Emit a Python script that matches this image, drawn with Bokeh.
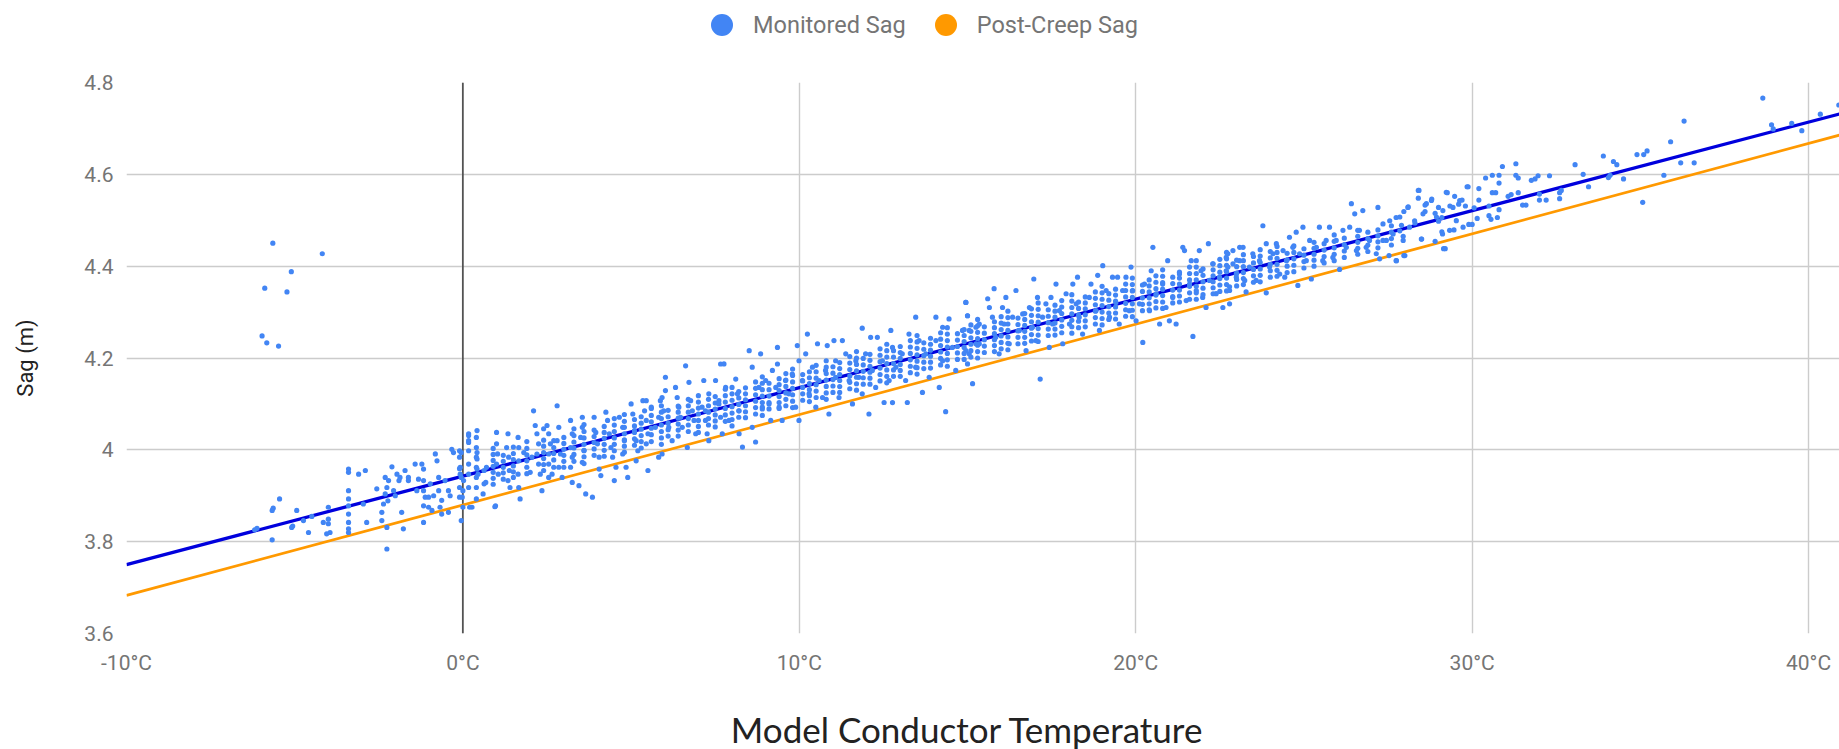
from bokeh.plotting import figure
from bokeh.layouts import column
from bokeh.models import ColumnDataSource, Legend, LegendItem, Span, FixedTicker, Label
from bokeh.embed import file_html
from bokeh.resources import INLINE

# ---------------- data ----------------
x_ticks = [-10, 0, 10, 20, 30, 40]
x_tick_labels = ["-10°C", "0°C", "10°C", "20°C", "30°C", "40°C"]
y_ticks = [3.6, 3.8, 4.0, 4.2, 4.4, 4.6, 4.8]
y_tick_labels = ["3.6", "3.8", "4", "4.2", "4.4", "4.6", "4.8"]

series_names = ["Monitored Sag", "Post-Creep Sag"]
x_title = "Model Conductor Temperature"
y_title = "Sag (m)"

# trend of monitored sag and the post-creep sag line (temperature, sag)
fit_temp = [-10, 41]
monitored_fit_sag = [3.750, 4.733]
post_creep_sag = [3.683, 4.687]

# monitored sag points (temperature degC, sag m)
outlier_points = [(-5.65, 4.450), (-4.18, 4.427), (-5.10, 4.388), (-5.89, 4.352),
                  (-5.23, 4.344), (-5.97, 4.248), (-5.83, 4.233), (-5.48, 4.226)]

cold_points = [
    (-6.19, 3.826), (-6.12, 3.829), (-5.67, 3.868), (-5.64, 3.873), (-5.45, 3.893), (-5.67, 3.804),
    (-5.09, 3.831), (-5.06, 3.834), (-4.94, 3.868), (-4.74, 3.846), (-4.59, 3.820), (-4.49, 3.855),
    (-4.15, 3.842), (-4.00, 3.839), (-4.00, 3.849), (-4.05, 3.817), (-3.95, 3.820), (-4.00, 3.875),
    (-3.40, 3.958), (-3.40, 3.951), (-3.40, 3.911), (-3.40, 3.893), (-3.40, 3.878), (-3.40, 3.860),
    (-3.40, 3.842), (-3.40, 3.828), (-3.40, 3.820), (-3.10, 3.947), (-2.96, 3.882), (-2.90, 3.955),
    (-2.86, 3.842), (-2.56, 3.915), (-2.41, 3.864), (-2.41, 3.846), (-2.26, 3.831), (-2.26, 3.784),
    (-2.31, 3.940), (-2.26, 3.918), (-2.31, 3.904), (-2.23, 3.889), (-2.36, 3.882), (-2.21, 3.933),
    (-2.11, 3.963), (-2.06, 3.911), (-2.01, 3.900), (-1.96, 3.947), (-1.87, 3.940), (-1.90, 3.933),
    (-1.82, 3.864), (-1.77, 3.828), (-1.72, 3.955), (-1.62, 3.940), (-1.62, 3.933), (-1.42, 3.969),
    (-1.32, 3.936), (-1.37, 3.911), (-1.22, 3.969), (-1.17, 3.958), (-1.17, 3.933), (-1.17, 3.911),
    (-1.17, 3.878), (-1.17, 3.842), (-1.12, 3.897), (-0.97, 3.926), (-1.02, 3.897), (-1.02, 3.875),
    (-0.92, 3.868), (-0.87, 3.900), (-0.82, 3.991), (-0.77, 3.976), (-0.72, 3.940), (-0.68, 3.875),
    (-0.63, 3.860), (-0.72, 3.911), (-0.53, 3.933), (-0.63, 3.890), (-0.43, 3.864), (-0.38, 3.900),
    (-0.33, 4.001), (-0.28, 3.994), (-0.43, 3.911), (-0.10, 3.959), (-0.05, 3.940), (0.00, 3.911),
    (-0.02, 3.897), (0.00, 3.875), (-0.05, 3.846), (0.02, 3.933), (-0.05, 3.994), (-0.10, 3.998),
    (-0.10, 3.984), (-0.08, 3.962), (-0.10, 3.918), (-0.10, 3.897), (-0.08, 3.947), (0.17, 4.031),
    (0.17, 4.016), (0.42, 4.042), (0.42, 3.994), (0.42, 3.980), (0.42, 3.958), (0.27, 3.875),
    (0.17, 4.035), (0.17, 4.020), (0.17, 3.998), (0.17, 3.969), (0.17, 3.918), (0.20, 3.875),
    (0.17, 3.947), (0.40, 4.027), (0.40, 4.005), (0.40, 3.984), (0.40, 3.962), (0.40, 3.940),
    (0.40, 3.918), (0.40, 3.893), (0.45, 3.947),
]

low_points = [
    (0.63, 3.955), (0.63, 3.926), (0.60, 3.904), (0.70, 3.962), (0.68, 3.929), (1.00, 4.038),
    (1.00, 4.013), (1.03, 3.991), (1.00, 3.969), (0.97, 3.878), (0.95, 3.876), (1.05, 3.947),
    (1.34, 4.035), (1.30, 4.005), (1.36, 3.984), (1.38, 3.955), (1.34, 3.933), (1.40, 3.918),
    (1.64, 4.027), (1.66, 4.005), (1.66, 3.976), (1.64, 3.947), (1.66, 3.918), (1.70, 3.893),
    (1.81, 3.994), (2.00, 3.951), (2.05, 3.984), (2.10, 4.085), (2.15, 4.053), (2.20, 4.035),
    (2.25, 4.013), (2.30, 3.947), (2.35, 3.911), (2.20, 3.991), (2.25, 3.969), (2.50, 4.053),
    (2.55, 4.035), (2.60, 4.013), (2.55, 3.991), (2.55, 3.969), (2.65, 3.947), (2.55, 3.940),
    (2.80, 4.096), (2.85, 4.049), (2.80, 4.020), (2.90, 3.991), (2.85, 3.962), (2.95, 3.940),
    (3.20, 4.064), (3.25, 4.035), (3.20, 4.005), (3.25, 3.984), (3.20, 3.962), (3.25, 3.929),
    (3.45, 3.922), (3.55, 4.071), (3.55, 4.049), (3.50, 4.027), (3.60, 3.998), (3.55, 3.973),
    (3.65, 3.904), (3.85, 3.897), (3.90, 4.071), (3.95, 4.038), (4.00, 4.013), (4.05, 3.984),
    (4.10, 3.944), (4.05, 3.958), (4.25, 4.082), (4.30, 4.064), (4.35, 4.035), (4.40, 4.005),
    (4.45, 3.984), (4.50, 3.933), (4.55, 3.962), (4.65, 4.071), (4.75, 4.049), (4.80, 4.020),
    (4.75, 3.991), (4.85, 3.962), (4.90, 3.940), (5.00, 4.100), (5.05, 4.078), (5.10, 4.042),
    (5.15, 4.020), (5.20, 3.998), (5.15, 3.976), (5.50, 3.955), (5.35, 4.107), (5.45, 4.107),
    (5.40, 4.085), (5.45, 4.064), (5.50, 4.035), (5.45, 4.013), (5.60, 4.093), (5.72, 4.049),
    (5.82, 4.071), (5.87, 4.107), (5.92, 4.114), (5.97, 4.085), (6.02, 4.129), (6.02, 4.158),
    (6.12, 4.049), (6.22, 4.020), (5.92, 3.991), (5.82, 3.984), (6.32, 4.136), (6.37, 4.114),
    (6.42, 4.093), (6.47, 4.071), (6.52, 4.049), (6.62, 4.183), (6.72, 4.147), (6.77, 4.107),
    (6.82, 4.085), (6.87, 4.064), (6.92, 4.035), (6.67, 4.005), (7.16, 4.151), (7.21, 4.085),
    (7.31, 4.020), (7.66, 4.187), (7.61, 4.107), (7.66, 4.071),
]

mid_points = [
    (7.11, 4.093), (7.21, 4.064), (7.26, 4.035), (7.31, 4.122), (7.51, 4.151), (7.61, 4.100),
    (7.71, 4.035), (7.76, 4.187), (7.81, 4.136), (7.91, 4.064), (8.11, 4.154), (8.16, 4.122),
    (8.21, 4.085), (8.21, 4.035), (8.31, 4.006), (8.51, 4.216), (8.60, 4.180), (8.70, 4.017),
    (8.60, 4.049), (8.80, 4.136), (8.85, 4.209), (8.90, 4.093), (9.00, 4.151), (9.10, 4.100),
    (9.15, 4.064), (9.20, 4.173), (9.30, 4.136), (9.35, 4.223), (9.35, 4.187), (9.40, 4.093),
    (9.49, 4.064), (9.59, 4.151), (9.69, 4.122), (9.79, 4.165), (9.89, 4.093), (9.94, 4.227),
    (9.99, 4.194), (9.99, 4.064), (10.09, 4.151), (10.19, 4.209), (10.24, 4.252), (10.29, 4.122),
    (10.39, 4.180), (10.49, 4.093), (10.54, 4.231), (10.59, 4.151), (10.69, 4.114), (10.78, 4.173),
    (10.83, 4.227), (10.88, 4.078), (11.03, 4.238), (11.08, 4.194), (11.08, 4.158), (11.18, 4.114),
    (11.28, 4.238), (11.38, 4.209), (11.48, 4.151), (11.58, 4.100), (11.68, 4.194), (11.77, 4.158),
    (11.87, 4.265), (11.87, 4.122), (11.97, 4.209), (12.07, 4.078), (12.12, 4.245), (12.17, 4.173),
    (12.27, 4.136), (12.32, 4.245), (12.47, 4.194), (12.52, 4.103), (12.67, 4.151), (12.72, 4.260),
    (12.77, 4.223), (12.77, 4.103), (12.87, 4.180), (13.06, 4.209), (13.16, 4.151), (13.21, 4.103),
    (13.26, 4.252), (13.46, 4.289), (13.46, 4.180), (13.56, 4.238), (13.66, 4.125), (13.76, 4.209),
    (13.86, 4.158), (14.06, 4.289), (14.06, 4.238), (14.16, 4.136), (14.26, 4.267), (14.26, 4.194),
    (14.35, 4.083), (14.45, 4.285), (14.55, 4.223), (14.65, 4.173), (14.85, 4.260), (14.95, 4.321),
    (15.00, 4.292), (15.05, 4.209), (15.15, 4.144), (15.25, 4.267), (15.35, 4.231),
]

warm_points = [
    (14.95, 4.321), (15.00, 4.292), (15.05, 4.260), (14.95, 4.216), (15.00, 4.187), (15.25, 4.231),
    (15.35, 4.274), (15.60, 4.329), (15.65, 4.310), (15.74, 4.289), (15.79, 4.351), (15.84, 4.245),
    (15.94, 4.209), (16.04, 4.310), (16.09, 4.274), (16.14, 4.332), (16.24, 4.231), (16.34, 4.289),
    (16.44, 4.347), (16.54, 4.260), (16.64, 4.296), (16.74, 4.216), (16.84, 4.310), (16.93, 4.267),
    (16.97, 4.372), (17.03, 4.238), (17.08, 4.332), (17.16, 4.154), (17.23, 4.289), (17.33, 4.318),
    (17.43, 4.223), (17.48, 4.332), (17.53, 4.274), (17.63, 4.361), (17.73, 4.303), (17.83, 4.231),
    (17.93, 4.340), (18.03, 4.274), (18.13, 4.361), (18.23, 4.318), (18.27, 4.376), (18.32, 4.289),
    (18.42, 4.252), (18.62, 4.332), (18.67, 4.361), (18.82, 4.303), (18.87, 4.380), (18.92, 4.260),
    (19.02, 4.401), (19.12, 4.347), (19.22, 4.289), (19.31, 4.376), (19.41, 4.321), (19.46, 4.376),
    (19.51, 4.274), (19.61, 4.347), (19.71, 4.376), (19.81, 4.303), (19.86, 4.398), (19.91, 4.347),
    (20.01, 4.281), (20.11, 4.318), (20.21, 4.234), (20.26, 4.361), (20.41, 4.303), (20.46, 4.390),
    (20.51, 4.441), (20.61, 4.340), (20.71, 4.274), (20.80, 4.361), (20.90, 4.310), (20.95, 4.412),
    (21.00, 4.281), (21.10, 4.332), (21.20, 4.274), (21.30, 4.383), (21.40, 4.441), (21.45, 4.434),
    (21.50, 4.325), (21.60, 4.361), (21.65, 4.412), (21.70, 4.247), (21.80, 4.347), (21.89, 4.434),
    (21.94, 4.390), (21.99, 4.332), (22.09, 4.310), (22.16, 4.449), (22.19, 4.369), (22.29, 4.405),
    (22.39, 4.340), (22.49, 4.376), (22.59, 4.310), (22.69, 4.390), (22.74, 4.427), (22.79, 4.347),
    (22.89, 4.405), (22.99, 4.376), (23.09, 4.441),
]

hot_points = [
    (22.69, 4.419), (22.74, 4.398), (22.79, 4.355), (22.79, 4.318), (22.89, 4.434), (22.99, 4.383),
    (23.09, 4.412), (23.19, 4.441), (23.24, 4.369), (23.28, 4.344), (23.38, 4.398), (23.48, 4.427),
    (23.58, 4.369), (23.68, 4.412), (23.78, 4.488), (23.88, 4.449), (23.88, 4.342), (23.98, 4.398),
    (24.08, 4.427), (24.18, 4.449), (24.28, 4.383), (24.38, 4.434), (24.43, 4.376), (24.48, 4.412),
    (24.57, 4.463), (24.67, 4.441), (24.77, 4.474), (24.82, 4.358), (24.87, 4.427), (24.97, 4.485),
    (25.07, 4.412), (25.17, 4.456), (25.22, 4.372), (25.37, 4.441), (25.46, 4.485), (25.56, 4.412),
    (25.66, 4.456), (25.76, 4.485), (25.86, 4.419), (25.96, 4.456), (26.06, 4.393), (26.16, 4.478),
    (26.26, 4.441), (26.36, 4.485), (26.41, 4.536), (26.51, 4.514), (26.56, 4.434), (26.65, 4.478),
    (26.75, 4.521), (26.85, 4.441), (26.95, 4.456), (27.15, 4.427), (27.20, 4.528), (27.25, 4.416),
    (27.35, 4.492), (27.45, 4.456), (27.55, 4.499), (27.65, 4.470), (27.75, 4.412), (27.85, 4.507),
    (27.95, 4.456), (28.00, 4.423), (28.09, 4.528), (28.14, 4.485), (28.29, 4.499), (28.42, 4.565),
    (28.49, 4.459), (28.54, 4.514), (28.64, 4.536), (28.79, 4.543), (28.94, 4.507), (29.13, 4.521),
    (29.15, 4.438), (29.23, 4.561), (29.33, 4.478), (29.43, 4.528), (29.53, 4.499), (29.63, 4.543),
    (29.73, 4.485), (29.88, 4.573),
]

summer_points = [
    (38.64, 4.766), (40.90, 4.751), (38.90, 4.708), (38.95, 4.699), (39.50, 4.711), (39.80, 4.695),
    (40.35, 4.731), (36.30, 4.716), (35.90, 4.671), (36.20, 4.625), (36.60, 4.625), (35.70, 4.598),
    (35.20, 4.651), (35.10, 4.643), (34.90, 4.643), (35.07, 4.539), (34.50, 4.590), (34.30, 4.621),
    (34.20, 4.628), (34.10, 4.598), (34.05, 4.593), (33.90, 4.640), (33.46, 4.573), (33.30, 4.600),
    (33.06, 4.621), (32.60, 4.560), (32.65, 4.565), (32.60, 4.547), (32.30, 4.597), (32.20, 4.544),
    (32.00, 4.544), (32.00, 4.557), (31.96, 4.597), (31.87, 4.590), (31.76, 4.587), (31.60, 4.533),
    (31.50, 4.533), (31.37, 4.560), (31.30, 4.598), (31.37, 4.592), (31.30, 4.623), (31.16, 4.556),
    (31.07, 4.552), (30.90, 4.617), (30.80, 4.598), (30.80, 4.581), (30.70, 4.560), (30.80, 4.523),
    (30.75, 4.506), (30.60, 4.598), (30.60, 4.560), (30.56, 4.502), (30.50, 4.510), (30.50, 4.531),
    (30.40, 4.592), (30.20, 4.569), (30.20, 4.544), (30.15, 4.504), (29.85, 4.573), (30.00, 4.491),
    (29.90, 4.491), (30.06, 4.527), (29.70, 4.544), (29.60, 4.535), (29.80, 4.531), (29.48, 4.552),
    (29.46, 4.479), (29.34, 4.531), (29.26, 4.560), (29.10, 4.475), (29.12, 4.470), (29.20, 4.438),
    (29.10, 4.506), (29.00, 4.528), (28.90, 4.515), (29.00, 4.498), (28.90, 4.454), (28.80, 4.546),
    (28.60, 4.533), (28.60, 4.519), (28.50, 4.459), (28.40, 4.565), (28.40, 4.548), (28.30, 4.494),
    (28.10, 4.529), (27.97, 4.519), (27.95, 4.465), (27.85, 4.477), (27.90, 4.489), (27.74, 4.506),
    (27.74, 4.412), (27.97, 4.423), (27.53, 4.423), (27.35, 4.456),
]

# vertical stripes of readings taken at the same model temperature
stripe_temp = [0.9, 1.5, 2.4, 3.0, 3.6, 4.2, 4.8, 5.3, 5.9, 6.4, 7.0, 7.5, 8.0, 8.4, 8.9, 9.4,
               9.8, 10.3, 10.8, 11.2, 11.7, 12.1, 12.6, 13.0, 13.5, 13.9, 14.4, 14.9, 15.3,
               15.8, 16.2, 16.7, 17.1, 17.6, 18.1, 18.5, 19.0, 19.4, 19.9, 20.4, 20.8, 21.3,
               21.8, 22.3, 22.7, 23.2, 23.7, 24.2, 24.7, 25.3, 25.9, 26.6, 27.2]
stripe_sag = [
    [3.925, 3.938, 3.951, 3.964, 3.977, 3.990, 4.003],
    [3.940, 3.952, 3.965, 3.979, 3.992, 4.006],
    [3.955, 3.968, 3.981, 3.994, 4.008, 4.021, 4.046],
    [3.962, 3.975, 3.988, 4.001, 4.014, 4.027],
    [3.970, 3.985, 3.999, 4.012, 4.026, 4.040, 4.055],
    [3.986, 3.999, 4.012, 4.025, 4.038, 4.051],
    [3.995, 4.008, 4.022, 4.035, 4.049, 4.062, 4.077],
    [4.004, 4.018, 4.031, 4.045, 4.058, 4.072],
    [4.012, 4.026, 4.040, 4.054, 4.068, 4.082, 4.096],
    [4.030, 4.043, 4.056, 4.069, 4.082, 4.095],
    [4.038, 4.051, 4.064, 4.078, 4.091, 4.104, 4.118],
    [4.050, 4.063, 4.076, 4.089, 4.102, 4.116],
    [4.052, 4.066, 4.080, 4.094, 4.108, 4.122, 4.136],
    [4.070, 4.083, 4.096, 4.109, 4.122, 4.135],
    [4.075, 4.089, 4.103, 4.117, 4.131, 4.145, 4.159],
    [4.090, 4.103, 4.116, 4.129, 4.142, 4.155],
    [4.092, 4.106, 4.120, 4.134, 4.148, 4.162, 4.176],
    [4.105, 4.118, 4.131, 4.144, 4.157, 4.170],
    [4.110, 4.124, 4.138, 4.152, 4.166, 4.180, 4.194],
    [4.125, 4.138, 4.151, 4.164, 4.177, 4.190],
    [4.130, 4.144, 4.158, 4.172, 4.186, 4.200, 4.214],
    [4.143, 4.156, 4.169, 4.182, 4.195, 4.208],
    [4.146, 4.160, 4.174, 4.188, 4.202, 4.216, 4.230],
    [4.160, 4.173, 4.186, 4.199, 4.212, 4.225],
    [4.165, 4.179, 4.193, 4.207, 4.221, 4.235, 4.249],
    [4.178, 4.191, 4.204, 4.217, 4.230, 4.243],
    [4.182, 4.196, 4.210, 4.224, 4.238, 4.252, 4.266],
    [4.197, 4.210, 4.223, 4.236, 4.249, 4.262],
    [4.200, 4.214, 4.228, 4.242, 4.256, 4.270, 4.284],
    [4.214, 4.227, 4.240, 4.253, 4.266, 4.279],
    [4.218, 4.232, 4.246, 4.260, 4.274, 4.288, 4.302],
    [4.232, 4.245, 4.258, 4.271, 4.284, 4.297],
    [4.236, 4.250, 4.264, 4.278, 4.292, 4.306, 4.320],
    [4.250, 4.263, 4.276, 4.289, 4.302, 4.315],
    [4.254, 4.268, 4.282, 4.296, 4.310, 4.324, 4.338],
    [4.268, 4.281, 4.294, 4.307, 4.320, 4.333],
    [4.272, 4.286, 4.300, 4.314, 4.328, 4.342, 4.356],
    [4.285, 4.298, 4.311, 4.324, 4.337, 4.350],
    [4.290, 4.304, 4.318, 4.332, 4.346, 4.360, 4.374],
    [4.305, 4.318, 4.331, 4.344, 4.357, 4.370],
    [4.308, 4.322, 4.336, 4.350, 4.364, 4.378, 4.392],
    [4.322, 4.335, 4.348, 4.361, 4.374, 4.387],
    [4.328, 4.342, 4.356, 4.370, 4.384, 4.398, 4.412],
    [4.340, 4.353, 4.366, 4.379, 4.392, 4.405],
    [4.346, 4.360, 4.374, 4.388, 4.402, 4.416, 4.430],
    [4.360, 4.373, 4.386, 4.399, 4.412, 4.425],
    [4.366, 4.380, 4.394, 4.408, 4.422, 4.436],
    [4.378, 4.391, 4.404, 4.417, 4.430, 4.443],
    [4.388, 4.402, 4.416, 4.430, 4.444],
    [4.400, 4.413, 4.426, 4.439, 4.452],
    [4.412, 4.426, 4.440, 4.454, 4.468],
    [4.426, 4.439, 4.452, 4.465, 4.478],
    [4.440, 4.453, 4.466, 4.479],
]

stripe_temp_b = [1.2, 1.9, 2.7, 3.3, 3.9, 4.5, 5.1, 5.6, 6.1, 6.7, 7.3, 7.8, 8.2, 8.7, 9.1, 9.6,
                 10.1, 10.5, 11.0, 11.5, 11.9, 12.4, 12.8, 13.3, 13.7, 14.2, 14.7, 15.1, 15.5,
                 16.0, 16.5, 16.9, 17.4, 17.8, 18.3, 18.8, 19.2, 19.7, 20.2, 20.6, 21.1, 21.6,
                 22.0, 22.5, 23.0, 23.5, 24.0, 24.5, 25.0, 25.6, 26.2, 26.9, 27.6]
stripe_sag_b = [
    [3.936, 3.950, 3.962, 3.975, 3.988],
    [3.948, 3.962, 3.976, 3.989, 4.003, 4.018],
    [3.962, 3.978, 3.992, 4.005, 4.020],
    [3.975, 3.990, 4.004, 4.017, 4.031, 4.046],
    [3.988, 4.002, 4.016, 4.029, 4.043],
    [3.998, 4.012, 4.026, 4.040, 4.054, 4.068],
    [4.010, 4.024, 4.038, 4.052, 4.066],
    [4.018, 4.033, 4.047, 4.061, 4.075, 4.090],
    [4.030, 4.044, 4.058, 4.072, 4.086],
    [4.040, 4.054, 4.068, 4.082, 4.096, 4.110],
    [4.054, 4.068, 4.082, 4.096, 4.110],
    [4.062, 4.076, 4.090, 4.104, 4.118, 4.132],
    [4.071, 4.085, 4.099, 4.113, 4.127],
    [4.078, 4.092, 4.106, 4.120, 4.134, 4.148],
    [4.089, 4.103, 4.117, 4.131, 4.145],
    [4.096, 4.110, 4.124, 4.138, 4.152, 4.166],
    [4.108, 4.122, 4.136, 4.150, 4.164],
    [4.114, 4.128, 4.142, 4.156, 4.170, 4.184],
    [4.125, 4.139, 4.153, 4.167, 4.181],
    [4.133, 4.147, 4.161, 4.175, 4.189, 4.203],
    [4.143, 4.157, 4.171, 4.185, 4.199],
    [4.150, 4.164, 4.178, 4.192, 4.206, 4.220],
    [4.160, 4.174, 4.188, 4.202, 4.216],
    [4.168, 4.182, 4.196, 4.210, 4.224, 4.238],
    [4.177, 4.191, 4.205, 4.219, 4.233],
    [4.185, 4.199, 4.213, 4.227, 4.241, 4.255],
    [4.197, 4.211, 4.225, 4.239, 4.253],
    [4.202, 4.216, 4.230, 4.244, 4.258, 4.272],
    [4.212, 4.226, 4.240, 4.254, 4.268],
    [4.220, 4.234, 4.248, 4.262, 4.276, 4.290],
    [4.231, 4.245, 4.259, 4.273, 4.287],
    [4.237, 4.251, 4.265, 4.279, 4.293, 4.307],
    [4.249, 4.263, 4.277, 4.291, 4.305],
    [4.255, 4.269, 4.283, 4.297, 4.311, 4.325],
    [4.266, 4.280, 4.294, 4.308, 4.322],
    [4.274, 4.288, 4.302, 4.316, 4.330, 4.344],
    [4.284, 4.298, 4.312, 4.326, 4.340],
    [4.291, 4.305, 4.319, 4.333, 4.347, 4.361],
    [4.303, 4.317, 4.331, 4.345, 4.359],
    [4.309, 4.323, 4.337, 4.351, 4.365, 4.379],
    [4.320, 4.334, 4.348, 4.362, 4.376],
    [4.328, 4.342, 4.356, 4.370, 4.384, 4.398],
    [4.338, 4.352, 4.366, 4.380, 4.394],
    [4.345, 4.359, 4.373, 4.387, 4.401, 4.415],
    [4.357, 4.371, 4.385, 4.399, 4.413],
    [4.365, 4.379, 4.393, 4.407, 4.421],
    [4.376, 4.390, 4.404, 4.418, 4.432],
    [4.386, 4.400, 4.414, 4.428],
    [4.396, 4.410, 4.424, 4.438],
    [4.407, 4.421, 4.435, 4.449],
    [4.419, 4.433, 4.447, 4.461],
    [4.432, 4.446, 4.460, 4.474],
    [4.446, 4.460, 4.474, 4.488],
]

# ---------------- assemble ----------------
monitored_temp, monitored_sag = [], []
for group in (outlier_points, cold_points, low_points, mid_points, warm_points, hot_points, summer_points):
    for t, s in group:
        monitored_temp.append(t)
        monitored_sag.append(s)
for temps, sag_lists in ((stripe_temp, stripe_sag), (stripe_temp_b, stripe_sag_b)):
    for t, sags in zip(temps, sag_lists):
        for s in sags:
            monitored_temp.append(t)
            monitored_sag.append(s)

points_src = ColumnDataSource(dict(x=monitored_temp, y=monitored_sag))
lines_src = ColumnDataSource(dict(x=fit_temp, fit=monitored_fit_sag, creep=post_creep_sag))

BLUE_PTS = "#4285f4"
ORANGE = "#ff9900"
GREY_TXT = "#757575"
W = 1839
TOTAL_H = 749
LEG_H = 56
TITLE_H = 59


def strip(height):
    f = figure(width=W, height=height, x_range=(0, 1), y_range=(0, 1),
               output_backend="svg", toolbar_location=None,
               x_axis_type=None, y_axis_type=None,
               min_border_left=0, min_border_right=0, min_border_top=0, min_border_bottom=0)
    f.outline_line_color = None
    f.xgrid.visible = False
    f.ygrid.visible = False
    return f


# ---------------- legend strip (frame aligned with chart frame, x from 126) ----------------
leg = strip(LEG_H)
legend_src = ColumnDataSource(dict(x=[float("nan")], y=[float("nan")]))
mon_marker = leg.scatter("x", "y", source=legend_src, marker="circle", size=5,
                         fill_color=BLUE_PTS, line_color=None)
creep_marker = leg.scatter("x", "y", source=legend_src, marker="circle", size=5,
                           fill_color=ORANGE, line_color=None)
legend = Legend(items=[LegendItem(label=series_names[0], renderers=[mon_marker]),
                       LegendItem(label=series_names[1], renderers=[creep_marker])],
                orientation="horizontal", location=(568, 4),
                glyph_width=55, glyph_height=55, label_standoff=4, spacing=12,
                padding=0, margin=0, border_line_color=None, background_fill_alpha=0,
                label_text_font="Roboto", label_text_font_size="23.5px",
                label_text_color=GREY_TXT)
leg.add_layout(legend, "center")

# ---------------- main chart ----------------
main_h = TOTAL_H - LEG_H - TITLE_H
p = figure(width=W, height=main_h, x_range=(-10, 40.92), y_range=(3.6, 4.8),
           output_backend="svg", toolbar_location=None,
           min_border_left=126, min_border_right=0, min_border_top=82 - LEG_H,
           min_border_bottom=main_h - (633 - LEG_H))
p.outline_line_color = None
p.background_fill_color = "white"
p.border_fill_color = "white"

p.xgrid.ticker = FixedTicker(ticks=x_ticks)
p.ygrid.ticker = FixedTicker(ticks=y_ticks)
for g in (p.xgrid, p.ygrid):
    g.grid_line_color = "#cccccc"
    g.grid_line_width = 1.4

zero_line = Span(location=0, dimension="height", line_color="#333333", line_width=1.4, level="underlay")
p.add_layout(zero_line)

blue_r = p.line("x", "fit", source=lines_src, line_color="#0000dd", line_width=3.3)
creep_r = p.line("x", "creep", source=lines_src, line_color=ORANGE, line_width=2.8)

pts_r = p.scatter("x", "y", source=points_src, marker="circle", size=5.2,
                  fill_color=BLUE_PTS, line_color=None)

p.xaxis.ticker = FixedTicker(ticks=x_ticks)
p.xaxis.major_label_overrides = dict(zip(x_ticks, x_tick_labels))
p.yaxis.ticker = FixedTicker(ticks=y_ticks)
p.yaxis.major_label_overrides = dict(zip(y_ticks, y_tick_labels))
for ax in (p.xaxis, p.yaxis):
    ax.axis_line_color = None
    ax.major_tick_line_color = None
    ax.minor_tick_line_color = None
    ax.major_tick_out = 0
    ax.major_tick_in = 0
    ax.minor_tick_out = 0
    ax.major_label_text_font = "Roboto"
    ax.major_label_text_font_size = "21px"
    ax.major_label_text_color = GREY_TXT
p.xaxis.major_label_standoff = 17
p.yaxis.major_label_standoff = 13

p.yaxis.axis_label = y_title
p.yaxis.axis_label_text_font = "Roboto"
p.yaxis.axis_label_text_font_size = "22px"
p.yaxis.axis_label_text_font_style = "normal"
p.yaxis.axis_label_text_color = "#222222"
p.yaxis.axis_label_standoff = 43

# ---------------- x-axis title strip ----------------
ttl = strip(TITLE_H)
ttl.add_layout(Label(x=841, y=21, x_units="screen", y_units="screen", text=x_title,
                     text_align="center", text_baseline="alphabetic",
                     text_font="Lato", text_font_size="35px", text_color="#222222"))

layout = column(leg, p, ttl, spacing=0)
open("out.html", "w").write(file_html(layout, INLINE))
